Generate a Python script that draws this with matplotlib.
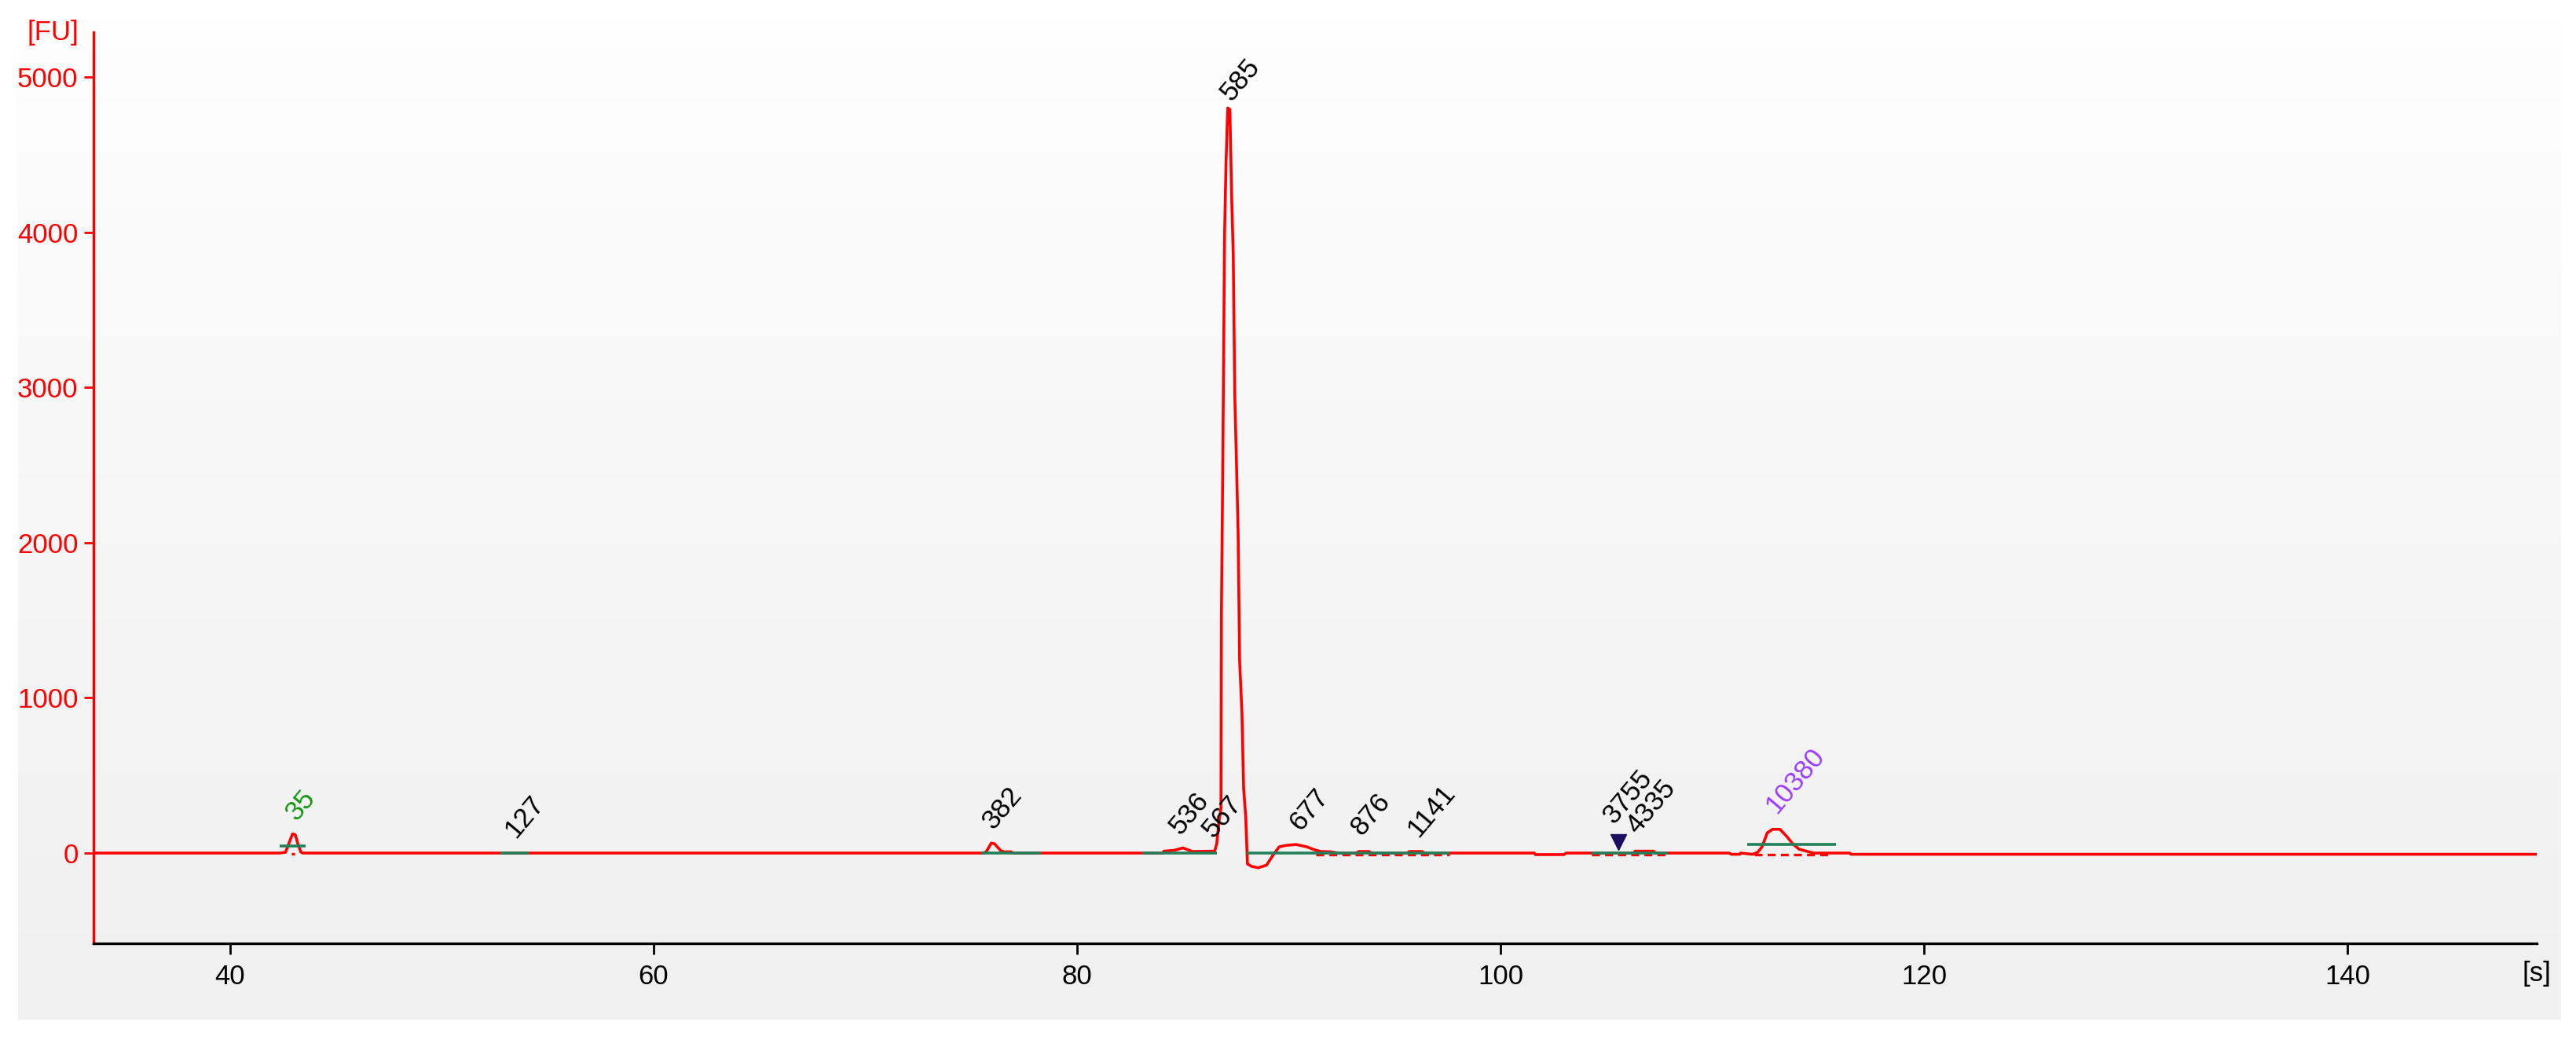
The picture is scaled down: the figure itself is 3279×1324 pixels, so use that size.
import numpy as np
import matplotlib
matplotlib.use("Agg")
import matplotlib.pyplot as plt

# electropherogram trace (time in s, fluorescence in FU)
trace_t = [33.55, 42.35, 42.62, 42.8, 42.95, 43.08, 43.2, 43.35, 43.45,
           75.6, 75.72, 75.95, 76.1, 76.4, 76.55, 76.9, 76.95,
           84.05, 84.1, 84.6, 85.0, 85.3, 85.45, 86.5, 86.6, 86.7, 86.8,
           86.82, 86.88, 86.97, 87.04, 87.12, 87.22, 87.3, 87.38, 87.45,
           87.53, 87.61, 87.68, 87.79, 87.87, 87.97, 88.05, 88.25, 88.55,
           88.95, 89.3, 89.55, 89.9, 90.35, 90.85, 91.2, 91.5, 92.0, 92.3,
           93.2, 93.3, 93.8, 93.9, 95.6, 95.7, 96.3, 96.4,
           101.6, 101.65, 103.0, 103.1, 106.3, 106.35, 107.25, 107.3,
           110.8, 110.9, 111.3, 111.35, 111.9, 112.15, 112.35, 112.6, 112.85,
           113.2, 113.5, 113.8, 114.1, 114.5, 114.8, 116.5, 116.55, 148.9]
trace_fu = [0, 0, 5, 70, 123, 118, 60, 5, 0,
            0, 10, 64, 60, 15, 8, 8, 0,
            0, 12, 18, 33, 18, 10, 12, 60, 200, 290,
            1530, 2420, 3990, 4460, 4800, 4790, 4250, 3850, 2960,
            2520, 2060, 1240, 900, 415, 230, -70, -86, -95,
            -78, -5, 40, 50, 55, 40, 22, 10, 8, 0,
            0, 10, 10, 0, 0, 10, 10, 0,
            0, -10, -10, 0, 0, 12, 12, 0,
            0, -8, -8, 0, -8, 5, 40, 130, 153,
            153, 110, 60, 25, 10, 0, 0, -8, -8]

# peak baselines (start, end, level)
green_start = [42.36, 52.77, 75.47, 83.1, 88.0, 104.3, 111.65]
green_end = [43.56, 54.1, 78.3, 86.6, 97.6, 107.9, 115.85]
green_level = [45, 0, 0, 0, 0, 0, 56]

dash_start = [42.9, 91.3, 104.3, 112.0]
dash_end = [43.05, 97.6, 107.9, 115.7]
dash_level = [-5, -8, -8, -10]

# peak size labels
peak_labels = ["35", "127", "382", "536", "567", "585", "677", "876",
               "1141", "3755", "4335", "10380"]
label_t = [43.35, 53.7, 76.25, 85.1, 86.65, 87.5, 90.75, 93.65,
           96.3, 105.55, 106.65, 113.25]
label_fu = [182, 66, 123, 90, 66, 4815, 116, 81, 73, 157, 96, 224]
label_colors = ["#149614", "black", "black", "black", "black", "black",
                "black", "black", "black", "black", "black", "#9b3dff"]

marker_t = [105.57]
marker_fu = [72]

x_ticks = [40, 60, 80, 100, 120, 140]
y_ticks = [0, 1000, 2000, 3000, 4000, 5000]

plt.rcParams["font.family"] = ["Liberation Sans", "DejaVu Sans"]

fig = plt.figure(figsize=(32.8, 13.24), dpi=100)
fig.patch.set_facecolor("white")

# gradient panel behind the plot
bg = fig.add_axes([0.007, 0.0196, 0.9866, 0.9654])
grad = np.linspace(0, 1, 256) ** 0.8
grad = (1.0 - grad * (1.0 - 240 / 255))[:, None]
bg.imshow(np.dstack([grad, grad, grad]), aspect="auto", extent=[0, 1, 0, 1])
bg.axis("off")
bg.set_zorder(-1)

ax = fig.add_axes([0.03628, 0.0929, 0.98445 - 0.03628, 0.969 - 0.0929])
ax.set_facecolor("none")

ax.plot(trace_t, trace_fu, color="red", lw=2.6, zorder=2)
ax.hlines(green_level, green_start, green_end, color="#22805a", lw=2.6, zorder=3)
ax.hlines(dash_level, dash_start, dash_end, color="red", lw=2.4,
          linestyles=(0, (3, 2)), zorder=2)
ax.plot(marker_t, marker_fu, marker="v", color="#1b0f5e", markersize=15,
        linestyle="none", zorder=4)

for lab, t, fu, c in zip(peak_labels, label_t, label_fu, label_colors):
    ax.text(t, fu, lab, rotation=50, rotation_mode="anchor", ha="left",
            va="bottom", fontsize=25, color=c)

ax.set_xlim(33.55, 148.94)
ax.set_ylim(-582, 5288)
ax.set_xticks(x_ticks)
ax.set_yticks(y_ticks)

for s in ["top", "right"]:
    ax.spines[s].set_visible(False)
ax.spines["left"].set_color("red")
ax.spines["left"].set_linewidth(2.4)
ax.spines["bottom"].set_color("black")
ax.spines["bottom"].set_linewidth(2.4)

ax.tick_params(axis="y", colors="red", length=9, width=2, labelsize=25, pad=5)
ax.tick_params(axis="x", colors="black", length=10, width=2, labelsize=25, pad=9)

fig.text(67 / 3280, 1 - 42 / 1324, "[FU]", color="red", fontsize=25,
         ha="center", va="center")
fig.text(3229 / 3280, 1 - 1240 / 1324, "[s]", color="black", fontsize=25,
         ha="center", va="center")

fig.savefig("out.png", dpi=100)
